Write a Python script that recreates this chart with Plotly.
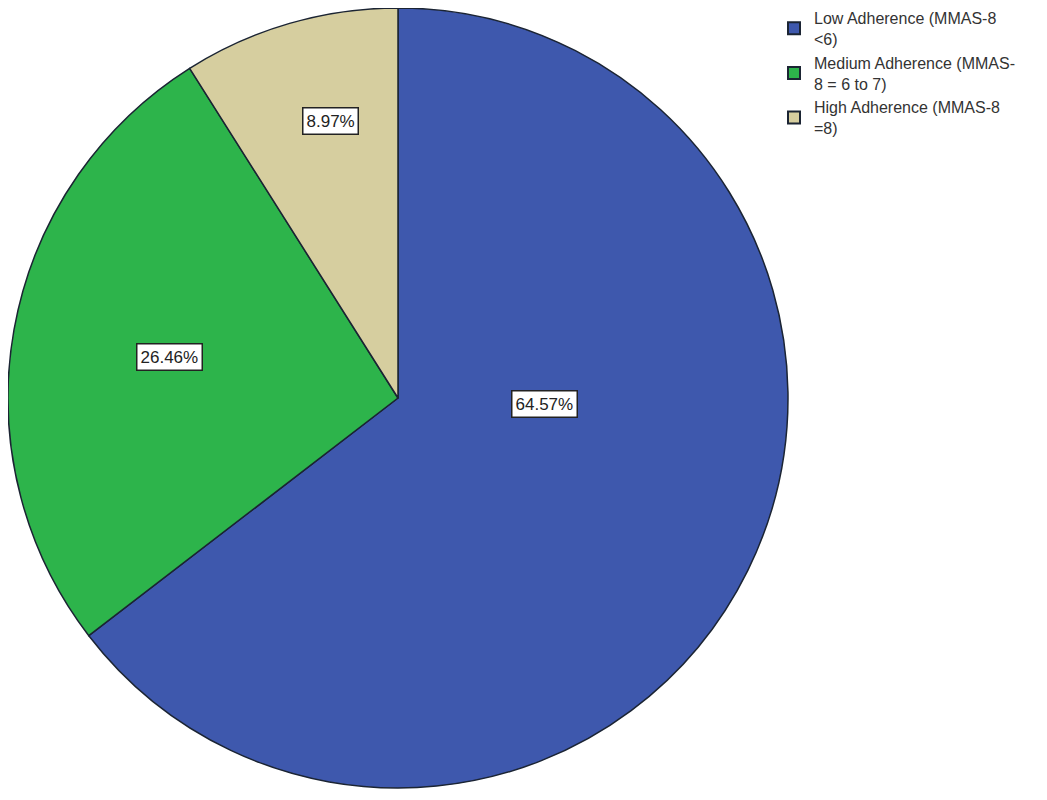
import math
import plotly.graph_objects as go

labels = ['Low Adherence (MMAS-8<br><6)',
          'Medium Adherence (MMAS-<br>8 = 6 to 7)',
          'High Adherence (MMAS-8<br>=8)']
values = [64.57, 26.46, 8.97]
colors = ['#3E58AD', '#2DB44B', '#D6CE9F']

# where SPSS put the value boxes: fraction of radius, angle tweak (deg)
lab_r = [0.375, 0.595, 0.73]
lab_shift = [-24, 0, 2.4]

W, H = 1047, 800
# page has an 8px body margin, so the figure sits 8px right/down
cx, cy, R = 390, 390, 390

fig = go.Figure(go.Pie(
    labels=labels, values=values, sort=False, direction='clockwise', rotation=0,
    marker=dict(colors=colors, line=dict(color='#1b2433', width=1.5)),
    textinfo='none', hoverinfo='label+percent',
    domain=dict(x=[(cx - R) / W, (cx + R) / W], y=[(H - cy - R) / H, (H - cy + R) / H]),
))

# value boxes, placed from the slice angles
total = sum(values)
start = 0.0
for v, fr, sh in zip(values, lab_r, lab_shift):
    mid = (start + v / 2) / total * 360 + sh
    start += v
    px = cx + R * fr * math.sin(math.radians(mid))
    py = cy - R * fr * math.cos(math.radians(mid))
    fig.add_annotation(x=px / W, y=1 - py / H, xref='paper', yref='paper',
                       xanchor='center', yanchor='middle',
                       text='%.2f%%' % (v / total * 100), showarrow=False,
                       font=dict(family='Liberation Sans, Arial', size=17, color='#222'),
                       bgcolor='white', bordercolor='#222', borderwidth=1.5, borderpad=3)

fig.update_layout(
    width=W, height=H, margin=dict(l=0, r=0, t=0, b=0, autoexpand=False),
    paper_bgcolor='white', plot_bgcolor='white',
    showlegend=True,
    legend=dict(x=766 / W, y=1 + 7 / H, xanchor='left', yanchor='top',
                font=dict(family='Liberation Sans, Arial', size=16, color='#333'),
                tracegroupgap=0, itemsizing='constant'),
)

fig.write_html('out.html')
